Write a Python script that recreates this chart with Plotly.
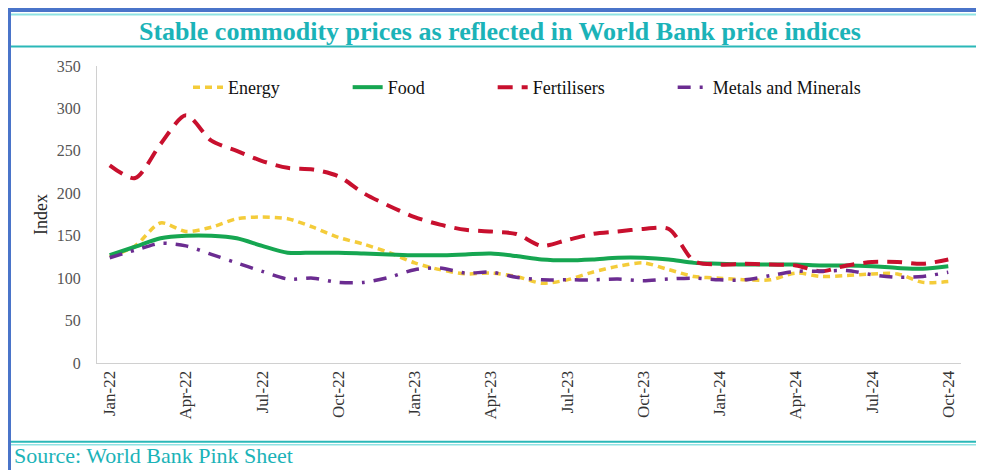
import plotly.graph_objects as go

months = ["Jan-22","Feb-22","Mar-22","Apr-22","May-22","Jun-22","Jul-22","Aug-22","Sep-22","Oct-22","Nov-22","Dec-22",
          "Jan-23","Feb-23","Mar-23","Apr-23","May-23","Jun-23","Jul-23","Aug-23","Sep-23","Oct-23","Nov-23","Dec-23",
          "Jan-24","Feb-24","Mar-24","Apr-24","May-24","Jun-24","Jul-24","Aug-24","Sep-24","Oct-24"]
tick_labels = ["Jan-22","Apr-22","Jul-22","Oct-22","Jan-23","Apr-23","Jul-23","Oct-23","Jan-24","Apr-24","Jul-24","Oct-24"]

energy = [125,138,165,155,160,170,172,170,160,148,140,130,118,110,105,106,102,94,98,107,114,118,110,102,
          100,98,98,106,102,103,105,105,95,96]
food = [127,137,147,150,150,147,138,130,130,130,129,128,127,127,128,129,126,122,121,122,124,124,122,118,
        117,116,116,116,115,115,114,112,111,114]
fertilisers = [233,218,258,292,262,250,238,230,228,220,200,185,172,163,157,155,152,138,145,152,155,158,158,120,
               116,117,116,115,108,115,119,119,117,122]
metals = [124,133,141,138,128,118,108,99,100,95,95,101,110,112,106,107,101,98,98,98,99,97,99,100,
          98,98,103,108,108,109,104,101,102,107]

# page offset (browser body margin)
OFF = 8
PW, PH = 984, 470
W, H = PW - OFF, PH - OFF
# plot area in page pixels
L, R, T, B = 97, 961, 65.5, 363

def px(x):
    return (x - L) / (R - L)

def py(y):
    return (B - y) / (B - T)

fig = go.Figure()
pad = "\u00a0" * 14
series = [
    ("Energy", energy, "#F4CC3A", "7px,5px", 3.5),
    ("Food", food, "#16A651", "solid", 4),
    ("Fertilisers", fertilisers, "#C8102E", "15px,9px", 4),
    ("Metals and Minerals", metals, "#6B2C91", "13px,9px,3px,9px", 3.5),
]
for name, vals, color, dash, w in series:
    fig.add_trace(go.Scatter(x=months, y=vals, name=name + pad, mode="lines",
                             line=dict(color=color, width=w, dash=dash, shape="spline", smoothing=0.8)))

serif = "Liberation Serif, Times New Roman, serif"
teal = "#1BB3B8"

shapes = [
    dict(type="rect", xref="paper", yref="paper", x0=px(9), x1=px(979), y0=py(490), y1=py(9.5),
         line=dict(color="#4A74C9", width=4)),
    dict(type="line", xref="paper", yref="paper", x0=px(11), x1=px(977), y0=py(14), y1=py(14),
         line=dict(color="#8FE3E3", width=2)),
    dict(type="line", xref="paper", yref="paper", x0=px(11), x1=px(977), y0=py(46), y1=py(46),
         line=dict(color="#2BB8B8", width=2)),
    dict(type="line", xref="paper", yref="paper", x0=px(11), x1=px(977), y0=py(442), y1=py(442),
         line=dict(color="#2BB8B8", width=2)),
    dict(type="line", xref="paper", yref="paper", x0=px(11), x1=px(977), y0=py(445), y1=py(445),
         line=dict(color="#8FE3E3", width=1.5)),
]

fig.update_layout(
    width=W, height=H,
    margin=dict(l=L - OFF, r=PW - R, t=T - OFF, b=PH - B),
    paper_bgcolor="white", plot_bgcolor="white",
    font=dict(family=serif, size=16, color="#222222"),
    showlegend=True,
    legend=dict(orientation="h", x=px(188), xanchor="left", y=py(87), yanchor="middle",
                font=dict(family=serif, size=18, color="#111111"), bgcolor="rgba(0,0,0,0)",
                tracegroupgap=0),
    xaxis=dict(type="category", range=[-0.5, 33.5], tickmode="array", tickvals=tick_labels, ticktext=tick_labels,
               tickangle=-90, showgrid=False, showline=True, linecolor="#D0D0D0", linewidth=1,
               ticks="", tickfont=dict(family=serif, size=17, color="#333333"), zeroline=False),
    yaxis=dict(range=[0, 350], dtick=50, showgrid=False, showline=True, linecolor="#D0D0D0", linewidth=1,
               ticks="", ticklabelstandoff=12,
               tickfont=dict(family=serif, size=16, color="#555555"), zeroline=False,
               title=dict(text="Index", font=dict(family=serif, size=18, color="#222222"), standoff=4)),
    shapes=shapes,
    annotations=[
        dict(text="<b>Stable commodity prices as reflected in World Bank price indices</b>", xref="paper", yref="paper",
             x=px(500), y=py(31), xanchor="center", yanchor="middle", showarrow=False,
             font=dict(family=serif, size=26, color=teal)),
        dict(text="Source: World Bank Pink Sheet", xref="paper", yref="paper",
             x=px(12), y=py(456), xanchor="left", yanchor="middle", showarrow=False,
             font=dict(family=serif, size=22, color=teal)),
    ],
)

fig.write_html("out.html")
